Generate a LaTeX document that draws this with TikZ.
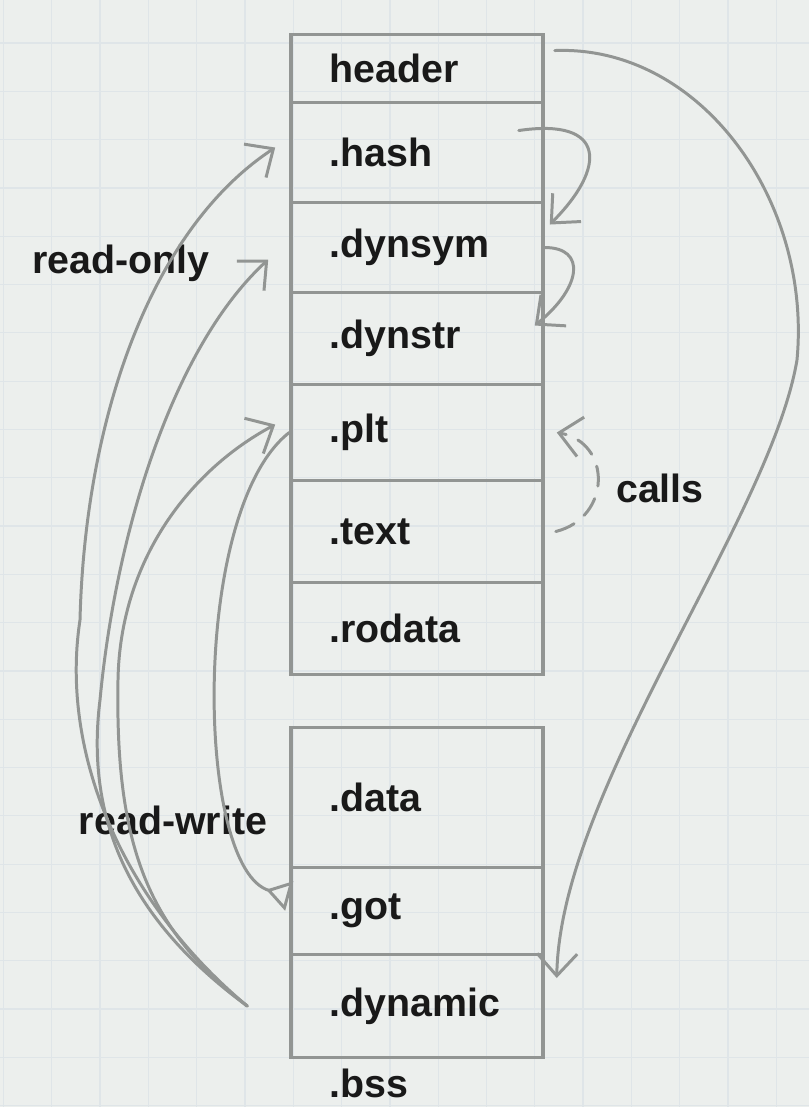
\documentclass[tikz,border=0pt]{standalone}
\usepackage{fontspec}
\setsansfont{Liberation Sans}
\usepackage{tikz}
\usetikzlibrary{matrix,arrows.meta,positioning}
\definecolor{paper}{RGB}{236,239,237}
\definecolor{gridline}{RGB}{223,229,232}
\definecolor{pencil}{RGB}{146,149,147}
\tikzstyle{remark}     = [font=\sffamily\bfseries\fontsize{11.2}{13}\selectfont, text=black!90]
\tikzstyle{pencilline} = [draw=pencil, line width=0.85pt, line cap=round]
\tikzstyle{barb}       = [pencilline, -{Straight Barb[length=2.2mm,width=4mm]}]
\tikzstyle{tri}        = [pencilline, -{Triangle[open,reversed,length=2.4mm,width=3mm]}]

\begin{document}
\begin{tikzpicture}[
		stack/.style={matrix of nodes, anchor=north, inner sep=0pt, line width=1pt, row sep=-\pgflinewidth,
				nodes={draw=pencil, text width=1.75cm, inner xsep=0.385cm, inner ysep=0.05cm, align=left, text=black!90,
						font=\sffamily\bfseries\fontsize{11.2}{13}\selectfont},
				row 1/.style={nodes={minimum height=0.68cm}},
				row 2/.style={nodes={minimum height=1.00cm}},
				row 3/.style={nodes={minimum height=0.90cm}},
				row 4/.style={nodes={minimum height=0.92cm}},
				row 5/.style={nodes={minimum height=0.96cm}},
				row 6/.style={nodes={minimum height=1.02cm}},
				row 7/.style={nodes={minimum height=0.92cm}},
				row 8/.style={nodes={minimum height=1.40cm}},
				row 9/.style={nodes={minimum height=0.87cm}},
				row 10/.style={nodes={minimum height=1.03cm}},
				row 11/.style={nodes={draw=none, minimum height=0.56cm}},
			}]

		\useasboundingbox (0,0) rectangle (8.09,-11.07);
		\fill[paper] (0,0) rectangle (8.09,-11.07);
		\begin{scope}
			\clip (0,0) rectangle (8.09,-11.07);
			\draw[gridline, line width=0.35pt, shift={(0.035,-0.43)}, step=0.483] (-0.5,-11.5) grid (8.5,0.5);
		\end{scope}

		\matrix[stack] (elf) at (4.17,-0.31) {
			|(hdr)| header \\
			|(hash)| .hash \\
			|(dynsym)| .dynsym \\
			|(dynstr)| .dynstr \\
			|(plt)| .plt \\
			|(txt)| .text \\
			|(rodata)| .rodata \\[0.53cm]
			|(data)| .data \\
			|(got)| .got \\
			|(dyn)| .dynamic \\
			|(bss)| .bss \\
		};

		\node[remark] (ro) at (1.21,-2.63) {read-only};
		\node[remark] (rw) at (1.73,-8.20) {read-write};
		\node[remark] (calls) at (6.60,-4.88) {calls};

		\draw[barb] ([xshift=0.1cm,yshift=0.18cm]hdr.east) .. controls (7.0,-0.45) and (8.12,-2.0) .. (7.97,-3.6)
			.. controls (7.7,-5.2) and (5.6,-7.9) .. ([xshift=0.12cm,yshift=0.28cm]dyn.east);
		\draw[barb] ([xshift=-0.26cm,yshift=0.22cm]hash.east) .. controls +(0.88,0.13) and +(0.57,0.57) .. ([xshift=0.05cm,yshift=0.23cm]dynsym.east);
		\draw[barb] (dynsym.east) .. controls +(0.42,0) and +(0.47,0.38) .. ([xshift=-0.1cm,yshift=0.13cm]dynstr.east);
		\draw[barb, dash pattern=on 2mm off 1.3mm] ([xshift=0.11cm]txt.east) .. controls +(0.56,0.14) and +(0.55,-0.1) .. ([xshift=0.12cm]plt.east);

		\coordinate (dyntail) at ([xshift=-0.42cm]dyn.west);
		\draw[barb] (dyntail) .. controls (1.2,-9.0) and (0.6,-7.5) .. (0.8,-6.2)
			.. controls (0.85,-4.2) and (1.5,-2.3) .. ([xshift=-0.14cm,yshift=0.05cm]hash.west);
		\draw[barb] (dyntail) .. controls (1.3,-9.2) and (0.85,-8.2) .. (1.0,-7.0)
			.. controls (1.15,-5.4) and (1.7,-3.5) .. ([xshift=-0.21cm,yshift=-0.12cm]dynsym.west);
		\draw[barb] (dyntail) .. controls (1.5,-9.3) and (1.15,-8.5) .. (1.18,-6.8)
			.. controls (1.2,-5.6) and (1.9,-4.7) .. ([xshift=-0.14cm,yshift=0.08cm]plt.west);
		\draw[tri] (plt.west) .. controls (1.9,-5.1) and (1.95,-8.7) .. ([yshift=0.15cm]got.west);
	\end{tikzpicture}
\end{document}
